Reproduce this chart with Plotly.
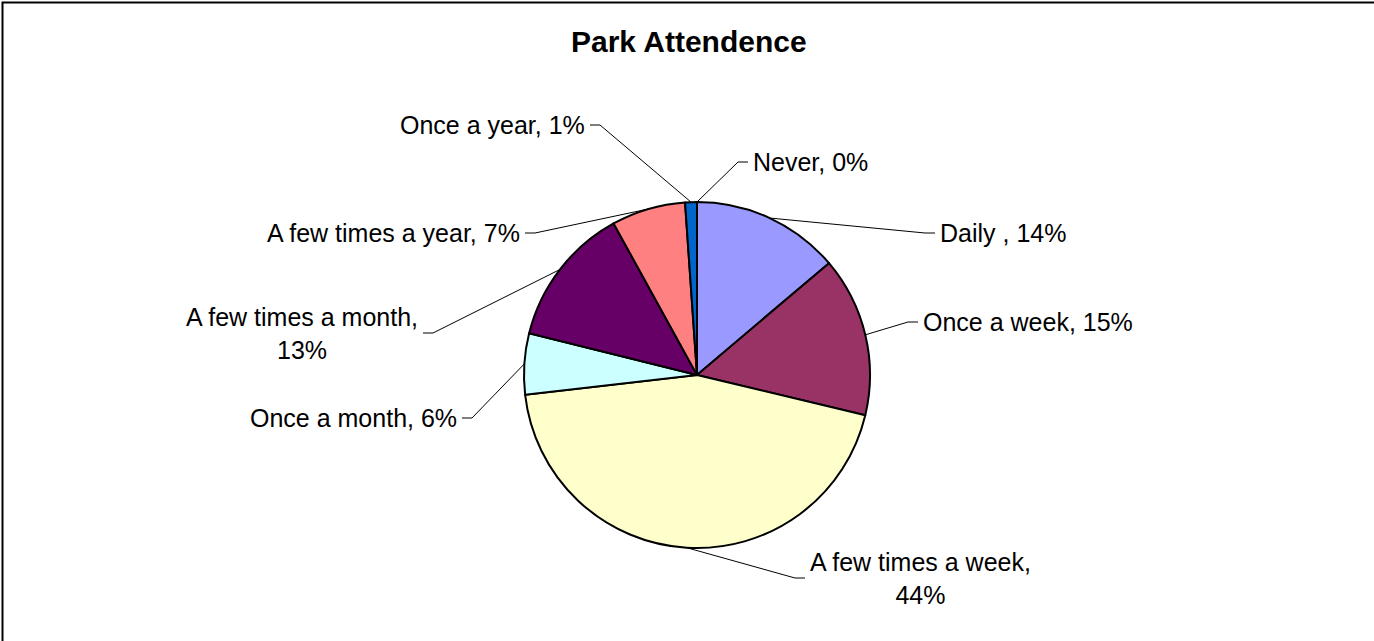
import math
import plotly.graph_objects as go

# ---- data ---------------------------------------------------------------
categories = [
    "Daily ",
    "Once a week",
    "A few times a week",
    "Once a month",
    "A few times a month",
    "A few times a year",
    "Once a year",
    "Never",
]
shares = [13.8, 14.9, 44.4, 5.7, 13.1, 6.9, 1.1, 0.0]
colors = ["#9999FF", "#993366", "#FFFFCC", "#CCFFFF",
          "#660066", "#FF8080", "#0066CC", "#CCCCFF"]

# ---- layout constants (pixels) ------------------------------------------
W, H = 1374, 641
CX, CY, R = 697, 375, 173
FONT = "Liberation Sans, Arial, sans-serif"
LABEL_SIZE = 25

# Leader-line elbow point, side of the label, and whether it wraps to two lines
label_layout = [
    dict(elbow=(925, 233), side="right", wrap=False),
    dict(elbow=(908, 322), side="right", wrap=False),
    dict(elbow=(795, 578), side="right", wrap=True),
    dict(elbow=(472, 418), side="left", wrap=False),
    dict(elbow=(433, 333), side="left", wrap=True),
    dict(elbow=(535, 233), side="left", wrap=False),
    dict(elbow=(600, 125), side="left", wrap=False),
    dict(elbow=(738, 162), side="right", wrap=False),
]
STUB = 10   # short horizontal segment next to each label
PAD = 3     # gap between the stub and the text


def px(x):
    return x / W


def py(y):
    return 1 - y / H


fig = go.Figure()

fig.add_trace(go.Pie(
    labels=categories,
    values=shares,
    sort=False,
    direction="clockwise",
    rotation=0,
    textinfo="none",
    hoverinfo="label+percent",
    showlegend=False,
    marker=dict(colors=colors, line=dict(color="#000000", width=2)),
    domain=dict(x=[px(CX - R), px(CX + R)], y=[py(CY + R), py(CY - R)]),
))

total = sum(shares)
shapes = []
annotations = []
cum = 0.0
for name, v, lay in zip(categories, shares, label_layout):
    mid = (cum + v / 2) / total * 2 * math.pi
    cum += v
    ex = CX + R * math.sin(mid)
    ey = CY - R * math.cos(mid)
    bx, by = lay["elbow"]
    sx = bx + STUB if lay["side"] == "right" else bx - STUB
    shapes.append(dict(
        type="path", xref="paper", yref="paper",
        path=f"M {px(ex)},{py(ey)} L {px(bx)},{py(by)} L {px(sx)},{py(by)}",
        line=dict(color="#000000", width=1),
    ))
    pct = round(v / total * 100)
    sep = ",<br>" if lay["wrap"] else ", "
    text = f"{name}{sep}{pct}%"
    tx = sx + PAD if lay["side"] == "right" else sx - PAD
    annotations.append(dict(
        text=text, xref="paper", yref="paper",
        x=px(tx), y=py(by),
        xanchor="left" if lay["side"] == "right" else "right",
        yanchor="middle", align="center", showarrow=False,
        font=dict(family=FONT, size=LABEL_SIZE, color="#000000"),
    ))

# chart title
annotations.append(dict(
    text="<b>Park Attendence</b>", xref="paper", yref="paper",
    x=px(689), y=py(42), xanchor="center", yanchor="middle",
    showarrow=False, font=dict(family=FONT, size=30, color="#000000"),
))

# chart-area frame
shapes.append(dict(
    type="rect", xref="paper", yref="paper",
    x0=px(2.5), y0=-0.02, x1=1.02, y1=py(2.5),
    line=dict(color="#000000", width=2),
))

fig.update_layout(
    width=W, height=H,
    margin=dict(l=0, r=0, t=0, b=0),
    paper_bgcolor="#FFFFFF", plot_bgcolor="#FFFFFF",
    shapes=shapes, annotations=annotations,
)

fig.write_html("out.html")
